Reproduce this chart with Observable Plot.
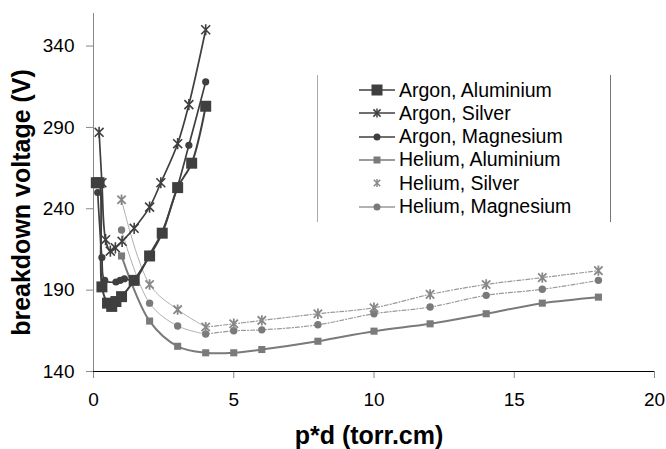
<!DOCTYPE html>
<html><head><meta charset="utf-8">
<script src="https://cdn.jsdelivr.net/npm/d3@7"></script>
<script src="https://cdn.jsdelivr.net/npm/@observablehq/plot@0.6"></script>
<style>
body{margin:0;background:#fff;font-family:"Liberation Sans",Arial,sans-serif;}
#wrap{position:relative;width:666px;height:449px;}
#legend{position:absolute;left:317px;top:75px;width:294px;height:147px;border-left:1px solid #aaa;border-right:1px solid #777;box-sizing:border-box;}
.row{position:absolute;left:0;height:24px;display:flex;align-items:center;font-size:19.5px;color:#000;white-space:nowrap;}
.row svg{margin-left:41px;margin-right:4px;}
</style></head>
<body><div id="wrap"><div id="legend"></div></div>
<script>
// Argon series
const arAlX = [0.1, 0.2, 0.3, 0.5, 0.65, 0.8, 1.0, 1.45, 2.0, 2.45, 3.0, 3.5, 4.0];
const arAlY = [256, 256, 192, 182, 180, 183, 186, 196, 211, 225, 253, 268, 303];
const arAgX = [0.2, 0.3, 0.43, 0.6, 0.78, 1.02, 1.45, 2.0, 2.4, 3.0, 3.4, 4.0];
const arAgY = [287, 256, 221, 214, 216, 220, 228, 241, 256, 280, 304, 350];
const arMgX = [0.15, 0.3, 0.4, 0.8, 0.95, 1.1, 1.45, 2.0, 2.45, 3.0, 3.4, 4.0];
const arMgY = [250, 210, 196, 195, 196, 197, 196, 212, 226, 254, 279, 318];
// Helium series
const heX = [1, 2, 3, 4, 5, 6, 8, 10, 12, 14, 16, 18];
const heAlY = [211, 171, 155.5, 151.5, 151.5, 153.5, 158.6, 164.8, 169.3, 175.5, 182, 185.7];
const heAgY = [245.5, 193.5, 178, 167.3, 169.3, 171.4, 175.5, 179.2, 187.4, 193.5, 197.7, 202];
const heMgY = [227, 182, 168, 163, 165, 165.6, 168.7, 175.5, 179.6, 186.8, 190.5, 196];
const xTicks = [0, 5, 10, 15, 20];
const yTicks = [140, 190, 240, 290, 340];
const seriesNames = ["Argon, Aluminium", "Argon, Silver", "Argon, Magnesium", "Helium, Aluminium", "Helium, Silver", "Helium, Magnesium"];

const zip = (xs, ys) => xs.map((x, i) => ({x, y: ys[i]}));
const arAl = zip(arAlX, arAlY), arAg = zip(arAgX, arAgY), arMg = zip(arMgX, arMgY);
const heAl = zip(heX, heAlY), heAg = zip(heX, heAgY), heMg = zip(heX, heMgY);

const dark = "#3f3f3f", mid = "#7a7a7a", light = "#9a9a9a";
const curve = "catmull-rom";
// Excel-style star marker: an X crossed by a vertical bar
const star = {draw(ctx, size) {
  const r = Math.sqrt(size / Math.PI), a = r * 0.8;
  ctx.moveTo(-a, -a); ctx.lineTo(a, a);
  ctx.moveTo(-a, a); ctx.lineTo(a, -a);
  ctx.moveTo(0, -r); ctx.lineTo(0, r);
}};

const chart = Plot.plot({
  width: 666, height: 449,
  marginLeft: 93, marginRight: 12, marginTop: 13, marginBottom: 78,
  style: {fontFamily: "'Liberation Sans', Arial, sans-serif", background: "transparent", color: "#000"},
  x: {domain: [0, 20]},
  y: {domain: [140, 360]},
  marks: [
    Plot.axisX({ticks: xTicks, tickSize: 7, tickPadding: 14, fontSize: 19, stroke: "#888", label: null}),
    Plot.axisY({ticks: yTicks, tickSize: 7, tickPadding: 12, fontSize: 19, stroke: "#888", label: null}),
    Plot.ruleX([0], {stroke: "#888"}),
    Plot.ruleY([140], {stroke: "#000"}),
    // helium lines
    Plot.line(heAg, {x: "x", y: "y", filter: d => d.x <= 4, curve, stroke: "#b0b0b0", strokeWidth: 1}),
    Plot.line(heAg, {x: "x", y: "y", filter: d => d.x >= 4, curve, stroke: light, strokeWidth: 1.2, strokeDasharray: "4 2 1 2"}),
    Plot.line(heMg, {x: "x", y: "y", filter: d => d.x <= 4, curve, stroke: "#b0b0b0", strokeWidth: 1}),
    Plot.line(heMg, {x: "x", y: "y", filter: d => d.x >= 4, curve, stroke: light, strokeWidth: 1.2, strokeDasharray: "4 2 1 2"}),
    Plot.line(heAl, {x: "x", y: "y", curve, stroke: mid, strokeWidth: 2}),
    // argon lines
    Plot.line(arAl, {x: "x", y: "y", curve, stroke: dark, strokeWidth: 2}),
    Plot.line(arMg, {x: "x", y: "y", curve, stroke: dark, strokeWidth: 1.7}),
    Plot.line(arAg, {x: "x", y: "y", curve, stroke: dark, strokeWidth: 1.7}),
    // markers
    Plot.dot(heAl, {x: "x", y: "y", symbol: "square", r: 4, fill: mid, stroke: "none"}),
    Plot.dot(heMg, {x: "x", y: "y", symbol: "circle", r: 3.7, fill: mid, stroke: "none"}),
    Plot.dot(heAg, {x: "x", y: "y", symbol: star, r: 5.2, fill: "none", stroke: "#888", strokeWidth: 1.8}),
    Plot.dot(arAl, {x: "x", y: "y", symbol: "square", r: 6.2, fill: dark, stroke: "none"}),
    Plot.dot(arMg, {x: "x", y: "y", symbol: "circle", r: 3.6, fill: dark, stroke: "none"}),
    Plot.dot(arAg, {x: "x", y: "y", symbol: star, r: 5.6, fill: "none", stroke: dark, strokeWidth: 1.6}),
    // axis titles
    Plot.text(["p*d (torr.cm)"], {frameAnchor: "bottom", textAnchor: "middle", lineAnchor: "middle", dx: -5, dy: 64, fontSize: 25, fontWeight: "bold", fill: "#000"}),
    Plot.text(["breakdown voltage (V)"], {frameAnchor: "left", textAnchor: "middle", lineAnchor: "middle", rotate: -90, dx: -72, dy: 10, fontSize: 25, fontWeight: "bold", fill: "#000"})
  ]
});
document.getElementById("wrap").prepend(chart);

// legend
const legendStyles = [
  {sym: "square", size: 11, fill: dark, line: dark, lw: 1.6},
  {sym: "star", size: 9, stroke: dark, line: dark, lw: 1.3},
  {sym: "circle", size: 7, fill: dark, line: dark, lw: 1.3},
  {sym: "square", size: 7, fill: mid, line: mid, lw: 1.3},
  {sym: "star", size: 8, stroke: "#888", line: null},
  {sym: "circle", size: 7, fill: mid, line: "#999", lw: 1.3}
];
const lg = document.getElementById("legend");
seriesNames.forEach((name, i) => {
  const s = legendStyles[i];
  const row = document.createElement("div");
  row.className = "row";
  row.style.top = (15 + i * 23.3 - 12) + "px";
  const c = 18, h = s.size / 2;
  let m = "";
  if (s.sym === "square") m = `<rect x="${c - h}" y="${12 - h}" width="${s.size}" height="${s.size}" fill="${s.fill}"/>`;
  else if (s.sym === "circle") m = `<circle cx="${c}" cy="12" r="${h}" fill="${s.fill}"/>`;
  else m = `<g stroke="${s.stroke}" stroke-width="1.5"><line x1="${c - h*0.8}" y1="${12 - h*0.8}" x2="${c + h*0.8}" y2="${12 + h*0.8}"/><line x1="${c - h*0.8}" y1="${12 + h*0.8}" x2="${c + h*0.8}" y2="${12 - h*0.8}"/><line x1="${c}" y1="${12 - h}" x2="${c}" y2="${12 + h}"/></g>`;
  const ln = s.line ? `<line x1="0" y1="12" x2="36" y2="12" stroke="${s.line}" stroke-width="${s.lw}"/>` : "";
  row.innerHTML = `<svg width="36" height="24">${ln}${m}</svg><span>${name}</span>`;
  lg.appendChild(row);
});
</script></body></html>
